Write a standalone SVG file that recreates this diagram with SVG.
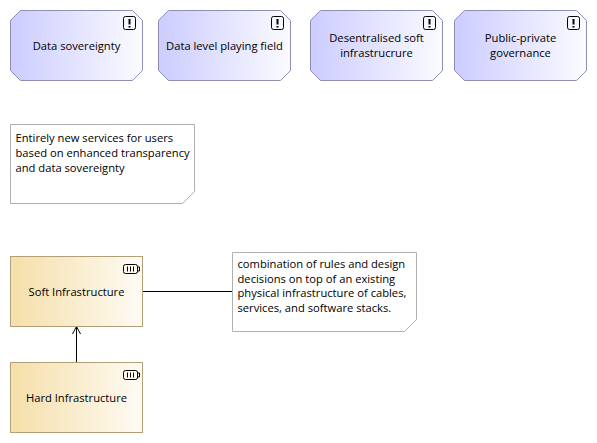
<svg xmlns="http://www.w3.org/2000/svg" width="597" height="443" viewBox="0 0 597 443">
<style>
text{font-family:"Open Sans","Noto Sans","Liberation Sans",sans-serif;font-size:11.2px;fill:#000}
.m{text-anchor:middle}
.goal{fill:url(#g);stroke:#8f8fb5;stroke-width:1}
.cap{fill:url(#c);stroke:#b09f78;stroke-width:1}
.note{fill:#fff;stroke:#b0b0b0;stroke-width:1}
.ic{fill:none;stroke:#000;stroke-width:1}
.conn{fill:none;stroke:#000;stroke-width:1}
</style>
<defs>
<linearGradient id="g" x1="0" y1="0" x2="1" y2="0"><stop offset="0" stop-color="#ccccff"/><stop offset="1" stop-color="#fbfbff"/></linearGradient>
<linearGradient id="c" x1="0" y1="0" x2="1" y2="0"><stop offset="0" stop-color="#f5dfa9"/><stop offset="1" stop-color="#fefbf4"/></linearGradient>
<path id="goalShape" class="goal" d="M10 0H122L132 10V60L122 70H10L0 60V10Z"/>
<g id="warn"><rect class="ic" x="0" y="0" width="12" height="13" rx="2"/><path d="M6 2.500V8M6 9.500V11" stroke="#000" stroke-width="2" fill="none"/></g>
<g id="batt"><rect class="ic" x="0" y="0" width="14" height="9" rx="2"/><path class="ic" d="M4 2V7M7 2V7M10 2V7M14 2.500H16V6.500H14"/></g>
<path id="noteShape" class="note" d="M0 0H184V67L172 79H0Z"/>
</defs>
<g id="connectors">
<path class="conn" d="M142.500 291.500H232.500"/>
<path class="conn" d="M76.500 362.500V326.500M72.500 334L76.500 326.500L80.500 334"/>
</g>
<g id="goal-data-sovereignty" transform="translate(10.500 10.500)"><use href="#goalShape"/><use href="#warn" x="113" y="6"/><text class="m" x="66" y="39">Data sovereignty</text></g>
<g id="goal-data-level" transform="translate(158.500 10.500)"><use href="#goalShape"/><use href="#warn" x="113" y="6"/><text class="m" x="66" y="39">Data level playing field</text></g>
<g id="goal-desentralised" transform="translate(310.500 10.500)"><use href="#goalShape"/><use href="#warn" x="113" y="6"/><text class="m" x="66" y="31">Desentralised soft</text><text class="m" x="66" y="46">infrastrucrure</text></g>
<g id="goal-public-private" transform="translate(454.500 10.500)"><use href="#goalShape"/><use href="#warn" x="113" y="6"/><text class="m" x="66" y="31">Public-private</text><text class="m" x="66" y="46">governance</text></g>
<g id="note-services" transform="translate(10.500 124.500)"><use href="#noteShape"/><text x="5" y="17">Entirely new services for users</text><text x="5" y="32">based on enhanced transparency</text><text x="5" y="47">and data sovereignty</text></g>
<g id="soft-infrastructure" transform="translate(10.500 256.500)"><rect class="cap" width="132" height="70"/><use href="#batt" x="113" y="8"/><text class="m" x="66" y="39">Soft Infrastructure</text></g>
<g id="hard-infrastructure" transform="translate(10.500 362.500)"><rect class="cap" width="132" height="70"/><use href="#batt" x="113" y="8"/><text class="m" x="66" y="39">Hard Infrastructure</text></g>
<g id="note-combination" transform="translate(232.500 252.500)"><use href="#noteShape"/><text x="5" y="15">combination of rules and design</text><text x="5" y="30">decisions on top of an existing</text><text x="5" y="44">physical infrastructure of cables,</text><text x="5" y="59">services, and software stacks.</text></g>
</svg>
